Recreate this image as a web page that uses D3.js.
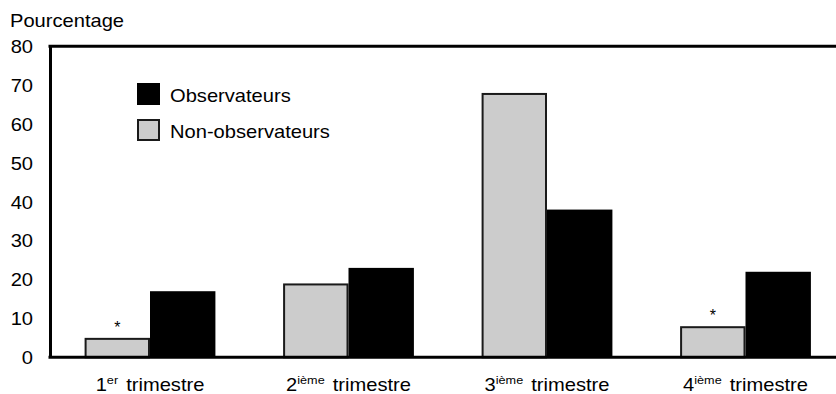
<!DOCTYPE html>
<html>
<head>
<meta charset="utf-8">
<script src="https://cdn.jsdelivr.net/npm/d3@7"></script>
<style>
  body { margin: 0; background: #fff; }
  svg { display: block; font-family: "Liberation Sans", Arial, sans-serif; }
</style>
</head>
<body>
<div id="chart"></div>
<script>
// trimestres
const categories = ["1", "2", "3", "4"];
const ordinals = ["er", "ième", "ième", "ième"];
const nonObservateurs = [5, 19, 68, 8];
const observateurs = [17, 23, 38, 22];
// asterisque au-dessus des non-observateurs
const marked = [true, false, false, true];
const yTicks = [0, 10, 20, 30, 40, 50, 60, 70, 80];
const seriesNames = ["Non-observateurs", "Observateurs"];

let config = {
    div: '#chart',
    width: 836,
    height: 394,
    top: 46.3,
    left: 50,
    bottom: 357.3
};

const sx = 1.15; // le texte de l'original est un peu etire en largeur
const fontSize = 17.5;

const svg = d3.select(config.div)
    .append("svg")
    .attr("width", config.width)
    .attr("height", config.height);

const y = d3.scaleLinear()
    .domain([0, 80])
    .range([config.bottom, config.top]);

const x = d3.scaleBand()
    .domain(categories)
    .range([50.75, 844.75])
    .paddingInner(0.341)
    .paddingOuter(0.1705);

const xSub = d3.scaleBand()
    .domain(seriesNames)
    .range([0, x.bandwidth()]);

let stretched = (sel, px, py) => sel
    .attr("transform", `translate(${px},${py}) scale(${sx},1)`)
    .attr("font-size", fontSize);

// Titre de l'axe
svg.append("text")
    .call(stretched, 10, 27)
    .text("Pourcentage");

// Barres
const groups = svg.append("g")
    .selectAll("g")
    .data(categories)
    .join("g")
    .attr("transform", d => `translate(${x(d)},0)`);

groups.append("rect")
    .attr("x", xSub("Non-observateurs") + 1)
    .attr("y", (d, i) => y(nonObservateurs[i]) + 1)
    .attr("width", xSub.bandwidth() - 2)
    .attr("height", (d, i) => y(0) - y(nonObservateurs[i]) - 1)
    .attr("fill", "#cccccc")
    .attr("stroke", "#1a1a1a")
    .attr("stroke-width", 2);

groups.append("rect")
    .attr("x", xSub("Observateurs"))
    .attr("y", (d, i) => y(observateurs[i]))
    .attr("width", xSub.bandwidth())
    .attr("height", (d, i) => y(0) - y(observateurs[i]))
    .attr("fill", "#000");

groups.filter((d, i) => marked[i])
    .append("text")
    .attr("x", xSub("Non-observateurs") + xSub.bandwidth() / 2)
    .attr("y", d => y(nonObservateurs[categories.indexOf(d)]) - 5)
    .attr("text-anchor", "middle")
    .attr("font-size", 16)
    .text("*");

// Axe Y
const yAxis = svg.append("g")
    .attr("transform", `translate(${config.left},0)`)
    .call(d3.axisLeft(y).tickValues(yTicks).tickSize(0).tickPadding(0));
yAxis.select(".domain")
    .attr("stroke", "#000")
    .attr("stroke-width", 3);
yAxis.selectAll("text")
    .attr("x", -17 / sx)
    .attr("dy", "0.36em")
    .attr("fill", "#000")
    .attr("font-family", "'Liberation Sans', Arial, sans-serif")
    .attr("font-size", fontSize)
    .attr("transform", `scale(${sx},1)`);

// Cadre du haut
svg.append("line")
    .attr("x1", config.left - 1.5)
    .attr("x2", config.width)
    .attr("y1", y(80))
    .attr("y2", y(80))
    .attr("stroke", "#000")
    .attr("stroke-width", 3);

// Axe X
const xAxis = svg.append("g")
    .attr("transform", `translate(0,${config.bottom})`)
    .call(d3.axisBottom(x).tickSize(0).tickFormat(""));
xAxis.select(".domain")
    .attr("d", `M${config.left - 1.5},0H${config.width}`)
    .attr("stroke", "#000")
    .attr("stroke-width", 3);

// Etiquettes des trimestres
categories.forEach((c, i) => {
    const t = svg.append("text")
        .call(stretched, x(c) + x.bandwidth() / 2, 391)
        .attr("text-anchor", "middle");
    t.append("tspan").text(c);
    t.append("tspan")
        .attr("font-size", 11)
        .attr("dy", -7)
        .text(ordinals[i]);
    t.append("tspan")
        .attr("dy", 7)
        .attr("dx", 7)
        .text("trimestre");
});

// Legende
const legend = svg.append("g");
const legendItems = [
    {name: "Observateurs", fill: "#000", stroke: "none", yPos: 83},
    {name: "Non-observateurs", fill: "#cccccc", stroke: "#1a1a1a", yPos: 119}
];
legend.selectAll("rect")
    .data(legendItems)
    .join("rect")
    .attr("x", d => d.stroke === "none" ? 137 : 138)
    .attr("y", d => d.stroke === "none" ? d.yPos : d.yPos + 1)
    .attr("width", d => d.stroke === "none" ? 23 : 21)
    .attr("height", d => d.stroke === "none" ? 22 : 20)
    .attr("fill", d => d.fill)
    .attr("stroke", d => d.stroke)
    .attr("stroke-width", 2);
legend.selectAll("text")
    .data(legendItems)
    .join("text")
    .each(function(d) {
        d3.select(this).call(stretched, 170, d.yPos + 19);
    })
    .text(d => d.name);
</script>
</body>
</html>
